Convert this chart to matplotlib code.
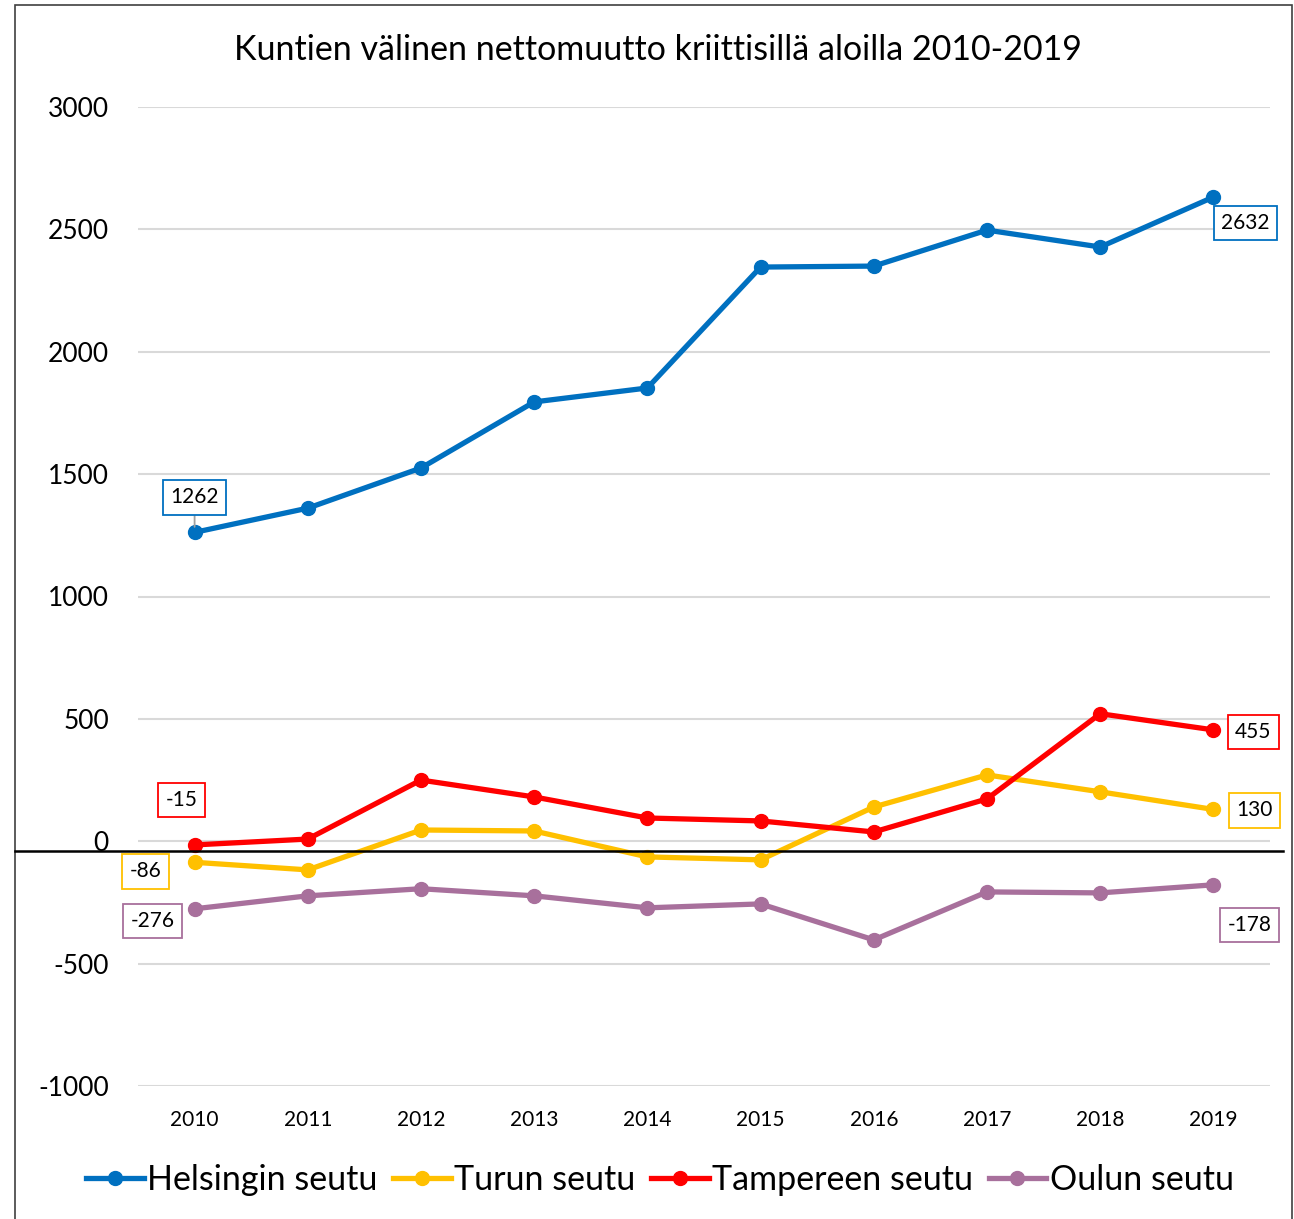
import matplotlib
matplotlib.use("Agg")
import matplotlib.pyplot as plt
from matplotlib.lines import Line2D
from matplotlib.patches import Rectangle

plt.rcParams['font.family'] = ['Lato', 'DejaVu Sans']

years = ['2010', '2011', '2012', '2013', '2014', '2015', '2016', '2017', '2018', '2019']
helsinki = [1262, 1361, 1525, 1795, 1852, 2346, 2350, 2497, 2428, 2632]
turku = [-86, -117, 46, 42, -64, -76, 140, 271, 202, 130]
tampere = [-15, 9, 250, 181, 95, 83, 38, 173, 521, 455]
oulu = [-276, -223, -194, -223, -272, -256, -403, -207, -211, -178]

series_names = ['Helsingin seutu', 'Turun seutu', 'Tampereen seutu', 'Oulun seutu']
series_values = [helsinki, turku, tampere, oulu]
colors = ['#0070C0', '#FFC000', '#FF0000', '#A8709C']

W, H = 1294, 1219
fig = plt.figure(figsize=(W / 100, H / 100), dpi=100)
ax = fig.add_axes([138 / W, 1 - 1086 / H, (1270 - 138) / W, (1086 - 107) / H])

x = list(range(len(years)))
for name, vals, c in zip(series_names, series_values, colors):
    ax.plot(x, vals, color=c, lw=3.8, marker='o', ms=10, label=name,
            solid_capstyle='round', zorder=3)

ax.set_xlim(-0.5, len(years) - 0.5)
ax.set_ylim(-1000, 3000)
ax.set_yticks(range(-1000, 3001, 500))
ax.set_yticklabels([str(v) for v in range(-1000, 3001, 500)], fontsize=19)
ax.set_xticks(x)
ax.set_xticklabels(years, fontsize=15)
ax.tick_params(axis='both', length=0)
ax.tick_params(axis='y', pad=21)
ax.tick_params(axis='x', pad=17)
ax.grid(axis='y', color='#D9D9D9', lw=1.5, zorder=0)
for s in ax.spines.values():
    s.set_visible(False)

# horizontal axis line (slightly below zero as in reference)
fig.add_artist(Line2D([15 / W, 1283 / W], [1 - 851 / H, 1 - 851 / H],
                      color='black', lw=1.8, zorder=5))
# chart border
fig.add_artist(Rectangle((15 / W, -0.01), (1292 - 15) / W, 1 - 5 / H + 0.01,
                         fill=False, edgecolor='#404040', lw=1.2))

# data labels
def label(i, vals, c, dx, dy, leader=False):
    ax.annotate(str(vals[i]), xy=(i, vals[i]), xytext=(dx, dy),
                textcoords='offset pixels', ha='center', va='center',
                fontsize=15, color='black', zorder=6,
                bbox=dict(boxstyle='square,pad=0.35', fc='white', ec=c, lw=1.3),
                arrowprops=dict(arrowstyle='-', color='#A0A0A0', lw=1.3,
                                shrinkA=0, shrinkB=4) if leader else None)

label(0, helsinki, colors[0], 0, 35, leader=True)
label(9, helsinki, colors[0], 32, -26)
label(0, tampere, colors[2], -13, 45)
label(9, tampere, colors[2], 40, -2)
label(0, turku, colors[1], -49, -9)
label(9, turku, colors[1], 41, -1)
label(0, oulu, colors[3], -42, -12)
label(9, oulu, colors[3], 36, -40)

fig.text(658 / W, 1 - 50 / H, 'Kuntien välinen nettomuutto kriittisillä aloilla 2010-2019',
         ha='center', va='center', fontsize=24.5)

handles = [Line2D([], [], color=c, lw=3.8, marker='o', ms=10) for c in colors]
fig.legend(handles, series_names, loc='center', bbox_to_anchor=(660 / W, 1 - 1180 / H),
           ncol=4, frameon=False, fontsize=24.5, handlelength=1.7, handletextpad=0.1,
           columnspacing=0.45)

fig.savefig('out.png', dpi=100)
